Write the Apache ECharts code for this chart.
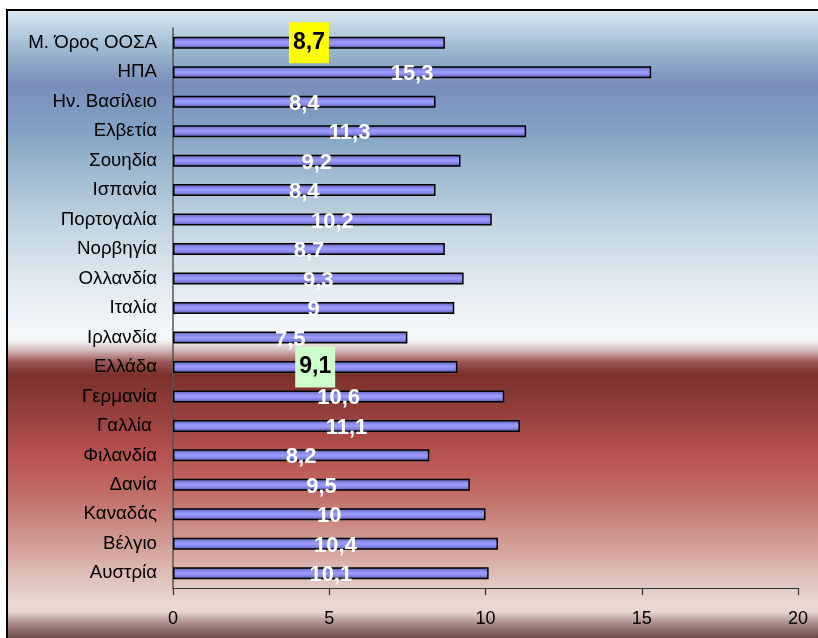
<!DOCTYPE html>
<html>
<head>
<meta charset="utf-8">
<script src="https://cdn.jsdelivr.net/npm/echarts@6/dist/echarts.min.js"></script>
<style>
  html, body { margin: 0; padding: 0; background: #ffffff; }
  #chart { width: 818px; height: 638px; }
</style>
</head>
<body>
<div id="chart"></div>
<script>
// Countries, top to bottom
const categories = [
  'Μ. Όρος ΟΟΣΑ', 'ΗΠΑ', 'Ην. Βασίλειο', 'Ελβετία', 'Σουηδία', 'Ισπανία',
  'Πορτογαλία', 'Νορβηγία', 'Ολλανδία', 'Ιταλία', 'Ιρλανδία', 'Ελλάδα',
  'Γερμανία', 'Γαλλία ', 'Φιλανδία', 'Δανία', 'Καναδάς', 'Βέλγιο', 'Αυστρία'
];
// Value for each country
const values = [
  8.7, 15.3, 8.4, 11.3, 9.2, 8.4,
  10.2, 8.7, 9.3, 9, 7.5, 9.1,
  10.6, 11.1, 8.2, 9.5, 10, 10.4, 10.1
];
// Value axis ticks
const axisMin = 0, axisMax = 20, axisStep = 5;
// Boxed labels for the average and for Greece
const boxedLabels = { 'Μ. Όρος ΟΟΣΑ': '#ffff00', 'Ελλάδα': '#ccffcc' };

const fmt = v => String(v).replace('.', ',');
const FONT = '"Liberation Sans", Arial, sans-serif';
const H = 638;
const stop = (y, c) => ({ offset: (y - 10) / (H - 10), color: c });

const barFill = new echarts.graphic.LinearGradient(0, 0, 0, 1, [
  { offset: 0, color: '#5a5ab0' },
  { offset: 0.35, color: '#9090f0' },
  { offset: 0.5, color: '#9c9cff' },
  { offset: 0.7, color: '#8888ea' },
  { offset: 1, color: '#4c4c9a' }
]);

const seriesData = categories.map((name, i) => {
  const item = { value: values[i] };
  if (boxedLabels[name]) {
    item.label = {
      color: '#000000',
      backgroundColor: boxedLabels[name],
      fontSize: 23,
      lineHeight: 23,
      padding: [9, 4, 9, 4],
      offset: [0, 0]
    };
  }
  return item;
});

const chart = echarts.init(document.getElementById('chart'), null, { renderer: 'canvas' });
chart.setOption({
  animation: false,
  backgroundColor: '#ffffff',
  graphic: [
    {
      type: 'rect',
      z: -10,
      silent: true,
      shape: { x: 7, y: 10, width: 900, height: 700 },
      style: {
        fill: {
          type: 'linear', x: 0, y: 10, x2: 0, y2: H, global: true,
          colorStops: [
            stop(10, '#dce9f3'), stop(25, '#c4d6e6'), stop(45, '#a3bdd4'),
            stop(65, '#8aa6c6'), stop(85, '#7a8cba'), stop(95, '#7b92bd'),
            stop(130, '#82a2c4'), stop(170, '#9db8d0'), stop(230, '#c4d6e2'),
            stop(290, '#e4ecf2'), stop(330, '#f4f7fa'), stop(340, '#f6f8fa'),
            stop(350, '#d6bcbc'), stop(362, '#9a5654'), stop(375, '#7c302b'),
            stop(420, '#9a4240'), stop(455, '#b85250'), stop(490, '#c06a64'),
            stop(525, '#cc8a84'), stop(555, '#d8a8a2'), stop(585, '#e2c8c2'),
            stop(600, '#e8d8d0'), stop(612, '#e6d6ce'), stop(622, '#b09490'),
            stop(638, '#6e4844')
          ]
        },
        stroke: '#000000',
        lineWidth: 2
      }
    }
  ],
  grid: { left: 173, right: 20, top: 28, bottom: 50, containLabel: false },
  xAxis: {
    type: 'value',
    min: axisMin, max: axisMax, interval: axisStep,
    axisLine: { show: true, lineStyle: { color: '#333333', width: 1.2 } },
    axisTick: { show: true, length: 7, lineStyle: { color: '#333333', width: 1.2 } },
    splitLine: { show: false },
    axisLabel: { color: '#000000', fontSize: 18, fontFamily: FONT, margin: 22 }
  },
  yAxis: {
    type: 'category',
    inverse: true,
    data: categories,
    axisLine: { show: true, lineStyle: { color: '#555555', width: 1.5 } },
    axisTick: { show: false },
    axisLabel: { color: '#000000', fontSize: 18.7, fontFamily: FONT, margin: 16 }
  },
  series: [{
    type: 'bar',
    data: seriesData,
    barWidth: 12,
    itemStyle: { color: barFill, borderColor: '#000000', borderWidth: 1.5 },
    label: {
      show: true,
      position: 'inside',
      offset: [0, 2],
      formatter: p => fmt(p.value),
      color: '#ffffff',
      fontSize: 22,
      fontWeight: 'bold',
      fontFamily: FONT
    }
  }]
});
</script>
</body>
</html>
